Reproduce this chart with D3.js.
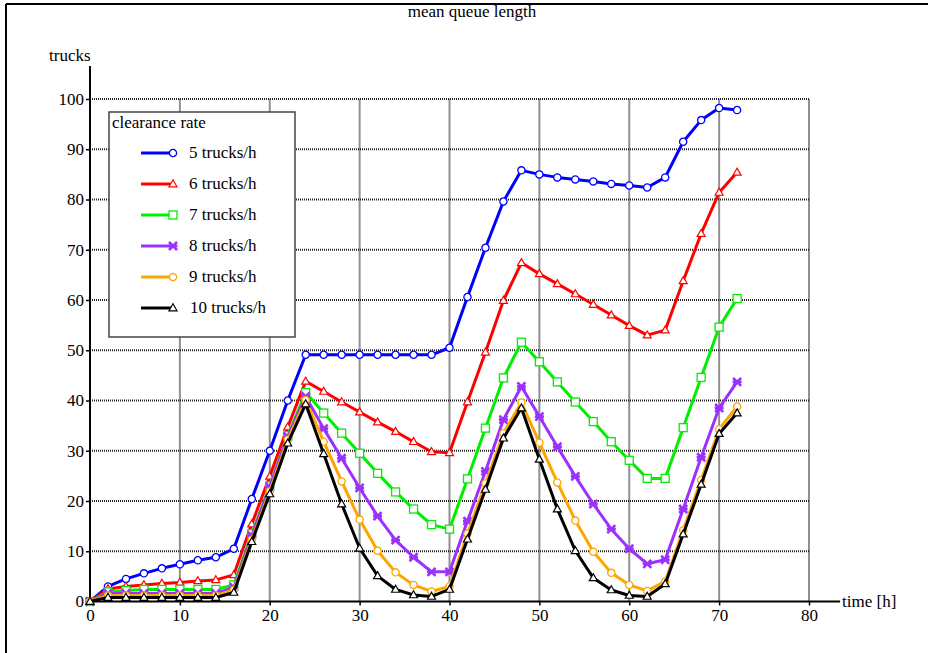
<!DOCTYPE html>
<meta charset="utf-8">
<script src="https://cdn.jsdelivr.net/npm/d3@7"></script>
<style type="text/css">
    body { margin: 0; background: #fff; }
    svg text { font-family: "Liberation Serif", "Times New Roman", Times, "DejaVu Serif", serif; fill: #000; }
    .title { font-size: 17px; }
    .label { font-size: 17px; }
</style>
<body>
<script type="text/javascript">
    // time axis (hours), every 2 h
    var hours = d3.range(0, 73, 2);

    var rate5 = [0, 3.0, 4.5, 5.6, 6.6, 7.4, 8.2, 8.8, 10.5, 20.4, 30.0, 40.0, 49.1, 49.1, 49.1, 49.1, 49.1, 49.1, 49.1, 49.1, 50.5,
        60.6, 70.4, 79.6, 85.8, 85.0, 84.4, 84.0, 83.6, 83.1, 82.8, 82.4, 84.4, 91.5, 95.8, 98.2, 97.8];
    var rate6 = [0, 2.5, 3.0, 3.3, 3.6, 3.8, 4.1, 4.3, 5.3, 15.4, 24.9, 34.7, 43.8, 41.8, 39.7, 37.7, 35.7, 33.8, 31.8, 29.8, 29.6,
        39.7, 49.6, 59.9, 67.4, 65.2, 63.2, 61.2, 59.1, 57.0, 54.9, 53.0, 54.0, 63.8, 73.2, 81.4, 85.4];
    var rate7 = [0, 1.9, 2.2, 2.4, 2.4, 2.4, 2.4, 2.4, 3.3, 13.5, 23.0, 33.0, 41.6, 37.5, 33.5, 29.5, 25.5, 21.8, 18.4, 15.3, 14.4,
        24.4, 34.5, 44.5, 51.6, 47.7, 43.7, 39.7, 35.8, 31.8, 28.1, 24.5, 24.5, 34.6, 44.6, 54.6, 60.3];
    var rate8 = [0, 1.6, 1.6, 1.6, 1.6, 1.6, 1.6, 1.6, 2.8, 13.1, 22.8, 32.8, 40.8, 34.4, 28.5, 22.6, 17.0, 12.2, 8.8, 5.9, 5.9,
        16.0, 25.9, 36.2, 42.8, 36.8, 30.8, 24.9, 19.4, 14.4, 10.5, 7.5, 8.3, 18.4, 28.7, 38.5, 43.7];
    var rate9 = [0, 1.2, 1.2, 1.2, 1.2, 1.2, 1.2, 1.2, 2.3, 12.3, 21.9, 32.2, 40.1, 31.8, 23.9, 16.3, 10.1, 5.8, 3.3, 2.0, 3.0,
        13.5, 23.5, 33.5, 39.6, 31.6, 23.7, 16.1, 9.9, 5.7, 3.3, 2.1, 4.0, 14.2, 24.2, 34.3, 38.8];
    var rate10 = [0, 0.8, 0.8, 0.8, 0.8, 0.8, 0.8, 0.8, 1.8, 11.9, 21.4, 31.5, 39.3, 29.4, 19.4, 10.6, 5.1, 2.4, 1.3, 1.0, 2.4,
        12.4, 22.3, 32.5, 38.5, 28.3, 18.4, 10.1, 4.7, 2.3, 1.2, 1.0, 3.5, 13.4, 23.3, 33.4, 37.5];

    var seriesNames = ["5 trucks/h", "6 trucks/h", "7 trucks/h", "8 trucks/h", "9 trucks/h", "10 trucks/h"];
    var seriesColors = ["#0000ff", "#ff0000", "#00ee00", "#9b30ff", "#ffa500", "#000000"];
    var seriesMarkers = ["circle", "triangle", "square", "cross", "circle", "triangle"];
    var xTicks = [0, 10, 20, 30, 40, 50, 60, 70, 80];
    var yTicks = [0, 10, 20, 30, 40, 50, 60, 70, 80, 90, 100];

    var series = [rate5, rate6, rate7, rate8, rate9, rate10].map(function (vals, i) {
        return {
            name: seriesNames[i], color: seriesColors[i], marker: seriesMarkers[i],
            values: vals.map(function (v, j) { return { t: hours[j], q: v }; })
        };
    });

    var width = 928, height = 653;
    var serif = '"Liberation Serif", "Times New Roman", Times, "DejaVu Serif", serif';

    var svg = d3.select("body").append("svg")
        .attr("width", width)
        .attr("height", height)
        .attr("font-family", serif);

    // outer frame (only top and left visible)
    svg.append("line").attr("x1", 6).attr("y1", 4).attr("x2", width).attr("y2", 4)
        .attr("stroke", "#000").attr("stroke-width", 2);
    svg.append("line").attr("x1", 6).attr("y1", 4).attr("x2", 6).attr("y2", height)
        .attr("stroke", "#000").attr("stroke-width", 2);

    var xScale = d3.scaleLinear().domain([0, 80]).range([90, 809]);
    var yScale = d3.scaleLinear().domain([0, 100]).range([601.5, 99]);

    // grid
    var grid = svg.append("g").attr("class", "grid");
    grid.selectAll(".gx").data(xTicks.slice(1))
        .enter().append("line")
        .attr("x1", function (d) { return xScale(d); })
        .attr("x2", function (d) { return xScale(d); })
        .attr("y1", yScale(0))
        .attr("y2", yScale(100))
        .attr("stroke", "#222")
        .attr("stroke-width", 2)
        .attr("stroke-dasharray", "1,1");
    grid.selectAll(".gy").data(yTicks.slice(1))
        .enter().append("line")
        .attr("x1", xScale(0))
        .attr("x2", xScale(80))
        .attr("y1", function (d) { return yScale(d); })
        .attr("y2", function (d) { return yScale(d); })
        .attr("stroke", "#222")
        .attr("stroke-width", 2)
        .attr("stroke-dasharray", "1,1");

    // axes
    var xAxis = d3.axisBottom(xScale).tickValues(xTicks).tickSize(4).tickPadding(3);
    var yAxis = d3.axisLeft(yScale).tickValues(yTicks).tickSize(4).tickPadding(2);

    var gx = svg.append("g")
        .attr("transform", "translate(0," + yScale(0) + ")")
        .call(xAxis);
    var gy = svg.append("g")
        .attr("transform", "translate(" + xScale(0) + ",0)")
        .call(yAxis);

    [gx, gy].forEach(function (g) {
        g.attr("font-family", serif).attr("font-size", 17);
        g.select(".domain").remove();
        g.selectAll(".tick line").attr("stroke", "#000").attr("stroke-width", 1.5);
        g.selectAll(".tick text").attr("fill", "#000");
    });

    svg.append("line")
        .attr("x1", xScale(0)).attr("x2", 840)
        .attr("y1", yScale(0)).attr("y2", yScale(0))
        .attr("stroke", "#000").attr("stroke-width", 2);
    svg.append("line")
        .attr("x1", xScale(0)).attr("x2", xScale(0))
        .attr("y1", yScale(0)).attr("y2", 66)
        .attr("stroke", "#000").attr("stroke-width", 2);

    // labels
    svg.append("text").attr("class", "title")
        .attr("x", 472).attr("y", 17)
        .style("text-anchor", "middle")
        .text("mean queue length");
    svg.append("text").attr("class", "label")
        .attr("x", 49).attr("y", 61)
        .text("trucks");
    svg.append("text").attr("class", "label")
        .attr("x", 842).attr("y", 607)
        .text("time [h]");

    function drawMarker(sel, type, color) {
        if (type === "circle") {
            sel.append("circle").attr("r", 3.6)
                .attr("fill", "#fff").attr("stroke", color).attr("stroke-width", 1.3);
        } else if (type === "triangle") {
            sel.append("path").attr("d", "M0,-4.2L4,2.8L-4,2.8Z")
                .attr("fill", "#fff").attr("stroke", color).attr("stroke-width", 1.2);
        } else if (type === "square") {
            sel.append("rect").attr("x", -4).attr("y", -4).attr("width", 8).attr("height", 8)
                .attr("fill", "#fff").attr("stroke", color).attr("stroke-width", 1.3);
        } else if (type === "cross") {
            sel.append("path").attr("d", "M-4,-4L4,4M-4,4L4,-4M-4.5,0L4.5,0")
                .attr("fill", "none").attr("stroke", color).attr("stroke-width", 2.6);
        }
    }

    var line = d3.line()
        .x(function (d) { return xScale(d.t); })
        .y(function (d) { return yScale(d.q); });

    series.forEach(function (s) {
        var g = svg.append("g").attr("class", "series");
        g.append("path")
            .datum(s.values)
            .attr("d", line)
            .attr("fill", "none")
            .attr("stroke", s.color)
            .attr("stroke-width", 3)
            .attr("stroke-linejoin", "round");
        g.selectAll(".pt").data(s.values)
            .enter().append("g")
            .attr("transform", function (d) { return "translate(" + xScale(d.t) + "," + yScale(d.q) + ")"; })
            .each(function () { drawMarker(d3.select(this), s.marker, s.color); });
    });

    // legend
    var legend = svg.append("g").attr("class", "legend");
    legend.append("rect")
        .attr("x", 109).attr("y", 112)
        .attr("width", 186).attr("height", 225)
        .attr("fill", "#fff")
        .attr("stroke", "#444")
        .attr("stroke-width", 1.5);
    legend.append("text").attr("class", "label")
        .attr("x", 112).attr("y", 128)
        .text("clearance rate");

    var items = legend.selectAll(".item").data(series)
        .enter().append("g")
        .attr("class", "item")
        .attr("transform", function (d, i) { return "translate(0," + (153 + i * 31) + ")"; });
    items.append("line")
        .attr("x1", 141).attr("x2", 173)
        .attr("stroke", function (d) { return d.color; })
        .attr("stroke-width", 3);
    items.append("g")
        .attr("transform", "translate(173,0)")
        .each(function (d) { drawMarker(d3.select(this), d.marker, d.color); });
    items.append("text").attr("class", "label")
        .attr("x", function (d, i) { return i === 5 ? 190 : 189; })
        .attr("y", 5)
        .text(function (d) { return d.name; });
</script>
</body>
</html>
